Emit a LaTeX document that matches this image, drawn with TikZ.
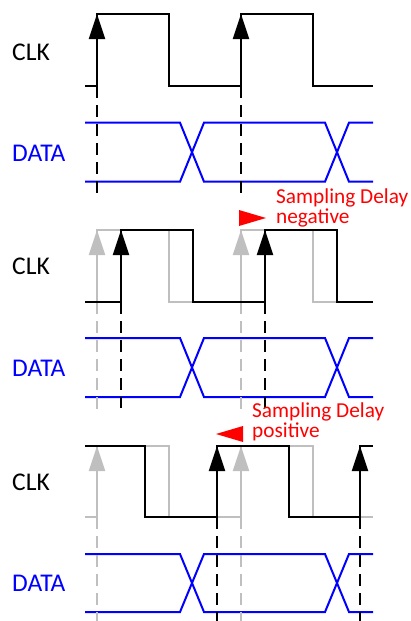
\documentclass[tikz,border=0pt]{standalone}
\usepackage{fontspec}
\setmainfont{Carlito}
\usetikzlibrary{arrows.meta}
\definecolor{clkgray}{RGB}{191,191,191}
\definecolor{datablue}{RGB}{0,0,255}
\definecolor{delayred}{RGB}{255,0,0}

\begin{document}
\begin{tikzpicture}[x=1pt, y=-1pt,
  sig/.style={line width=2pt, line join=miter},
  clk/.style={sig, black},
  old/.style={sig, clkgray},
  bus/.style={sig, datablue},
  rise/.style={-{Triangle[width=16pt,length=25pt]}, line width=2pt},
  probe/.style={line width=2pt, dash pattern=on 12pt off 7pt},
  lbl/.style={anchor=west, inner sep=0pt, font=\fontsize{25.5}{28}\selectfont},
  delaytext/.style={anchor=north west, align=left, inner sep=0pt,
                    text=delayred, font=\fontsize{21.3}{20}\selectfont}
]
\useasboundingbox (0,0) rectangle (410,621);

% labels
\node[lbl] (clkA) at (12,52) {CLK};
\node[lbl, text=datablue] (dataA) at (12,153) {DATA};
\node[lbl] (clkB) at (12,266) {CLK};
\node[lbl, text=datablue] (dataB) at (12,368) {DATA};
\node[lbl] (clkC) at (12,482) {CLK};
\node[lbl, text=datablue] (dataC) at (12,583) {DATA};

% data eyes
\foreach \hi/\lo in {122.7/181.7, 338/397, 554/612} {
  \draw[bus] (85,\hi) -- (180,\hi) -- (204,\lo) -- (325,\lo) -- (349,\hi) -- (373,\hi);
  \draw[bus] (85,\lo) -- (180,\lo) -- (204,\hi) -- (325,\hi) -- (349,\lo) -- (373,\lo);
}

% reference clock
\draw[clk] (85,86) -- (97,86) -- (97,14) -- (169,14) -- (169,86) -- (241,86)
  -- (241,14) -- (313,14) -- (313,86) -- (373,86);
\foreach \x in {97,241} {
  \draw[rise] (\x,86) -- (\x,14);
  \draw[probe] (\x,86) -- (\x,195);
}

% negative delay
\draw[old] (85,302) -- (97,302) -- (97,230) -- (169,230) -- (169,302) -- (241,302)
  -- (241,230) -- (313,230) -- (313,302) -- (373,302);
\foreach \x in {97,241} {
  \draw[rise, clkgray] (\x,302) -- (\x,230);
  \draw[probe, clkgray] (\x,302) -- (\x,410);
}
\draw[clk] (85,302) -- (121,302) -- (121,230) -- (193,230) -- (193,302) -- (265,302)
  -- (265,230) -- (337,230) -- (337,302) -- (373,302);
\foreach \x in {121,265} {
  \draw[rise] (\x,302) -- (\x,230);
  \draw[probe] (\x,302) -- (\x,408);
}
\fill[delayred] (239,210) -- (266,218) -- (239,226) -- cycle;
\node[delaytext] (negnote) at (276,189) {Sampling Delay\\negative};

% positive delay
\draw[old] (85,517) -- (97,517) -- (97,446) -- (169,446) -- (169,517) -- (241,517)
  -- (241,446) -- (313,446) -- (313,517) -- (373,517);
\foreach \x in {97,241} {
  \draw[rise, clkgray] (\x,517) -- (\x,446);
  \draw[probe, clkgray] (\x,517) -- (\x,621);
}
\draw[clk] (85,446) -- (145,446) -- (145,517) -- (217,517) -- (217,446) -- (289,446)
  -- (289,517) -- (360,517) -- (360,446) -- (373,446);
\foreach \x in {217,360} {
  \draw[rise] (\x,517) -- (\x,446);
  \draw[probe] (\x,517) -- (\x,621);
}
\fill[delayred] (243,426) -- (216,434) -- (243,442) -- cycle;
\node[delaytext] (posnote) at (252,403) {Sampling Delay\\positive};

\end{tikzpicture}
\end{document}
